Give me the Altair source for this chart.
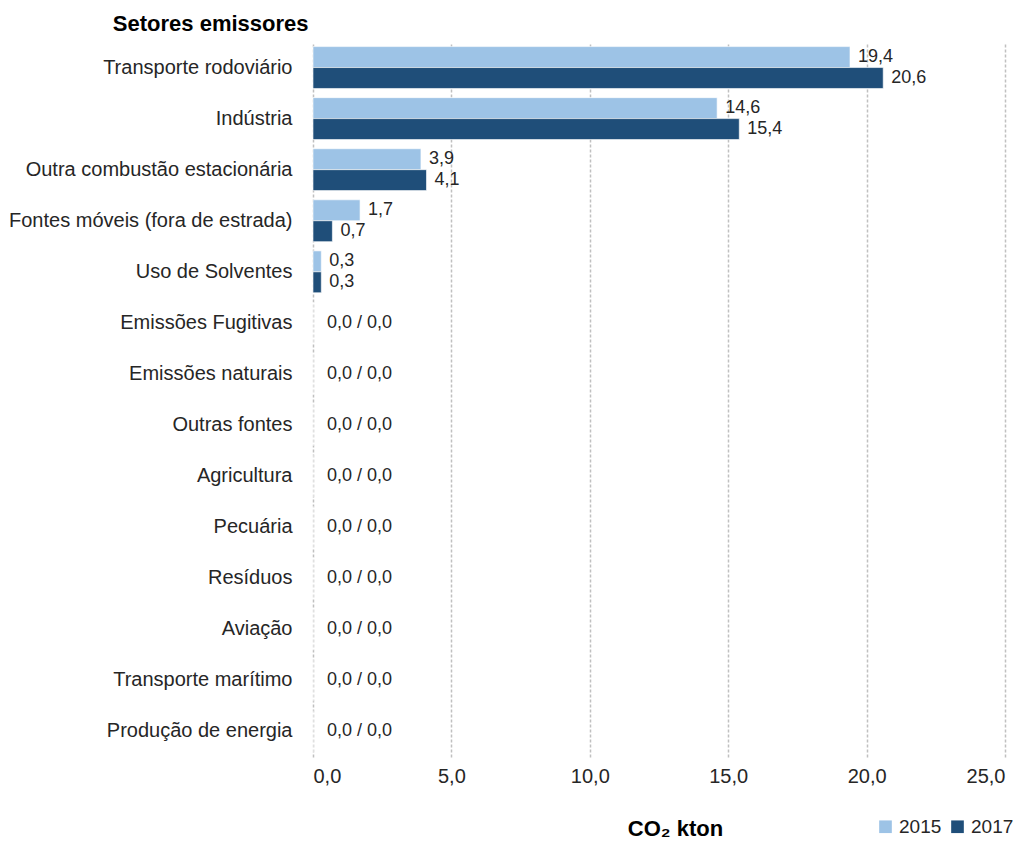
import altair as alt
import pandas as pd

categories = [
    "Transporte rodoviário", "Indústria", "Outra combustão estacionária",
    "Fontes móveis (fora de estrada)", "Uso de Solventes", "Emissões Fugitivas",
    "Emissões naturais", "Outras fontes", "Agricultura", "Pecuária",
    "Resíduos", "Aviação", "Transporte marítimo", "Produção de energia",
]
years = ["2015", "2017"]
v2015 = [19.4, 14.6, 3.9, 1.7, 0.3, 0, 0, 0, 0, 0, 0, 0, 0, 0]
v2017 = [20.6, 15.4, 4.1, 0.7, 0.3, 0, 0, 0, 0, 0, 0, 0, 0, 0]
colors = ["#9dc3e6", "#1f4e79"]

def fmt(v):
    return f"{v:.1f}".replace(".", ",")

rows = []
for c, a, b in zip(categories, v2015, v2017):
    rows.append({"setor": c, "ano": "2015", "valor": a, "label": fmt(a) if (a or b) else ""})
    rows.append({"setor": c, "ano": "2017", "valor": b, "label": fmt(b) if (a or b) else ""})
df = pd.DataFrame(rows)

zero_rows = [{"setor": c, "valor": 0, "label": f"{fmt(a)} / {fmt(b)}"}
             for c, a, b in zip(categories, v2015, v2017) if not (a or b)]
dz = pd.DataFrame(zero_rows)

FONT = "Liberation Sans, Arial, sans-serif"
TXT = "#262626"

yenc = alt.Y("setor:N", sort=categories,
             scale=alt.Scale(paddingInner=0.18, paddingOuter=0.09),
             axis=alt.Axis(title="Setores emissores", titleAngle=0, titleAlign="right",
                           titleBaseline="middle", titleX=-5, titleY=-19,
                           titleFont=FONT, titleFontSize=22, titleFontWeight="bold",
                           titleColor="black",
                           labelFont=FONT, labelFontSize=20, labelColor=TXT, labelLimit=0,
                           labelPadding=21, ticks=False, domain=False, grid=False))
xenc = alt.X("valor:Q", scale=alt.Scale(domain=[0, 25], nice=False),
             axis=alt.Axis(title="CO₂ kton", values=[0, 5, 10, 15, 20, 25],
                           labelExpr="replace(format(datum.value, '.1f'), '.', ',')",
                           labelFont=FONT, labelFontSize=20, labelColor=TXT, labelPadding=9,
                           titleFont=FONT, titleFontSize=22, titleFontWeight="bold",
                           titleColor="black", titleX=362, titleY=71,
                           titleBaseline="middle",
                           ticks=False, domain=False, grid=True,
                           gridColor="#c0c0c0", gridDash=[3, 2], gridWidth=1.5))

bars = alt.Chart(df).mark_bar(stroke="white", strokeWidth=0.6).encode(
    y=yenc,
    yOffset=alt.YOffset("ano:N", sort=years),
    x=xenc,
    color=alt.Color("ano:N", sort=years,
                    scale=alt.Scale(domain=years, range=colors),
                    legend=alt.Legend(title=None, orient="none", direction="horizontal",
                                      legendX=563, legendY=775, symbolType="square",
                                      symbolSize=160, symbolStrokeWidth=0,
                                      labelFont=FONT, labelFontSize=19, labelColor=TXT,
                                      columnPadding=6, labelOffset=4, padding=0)),
)

texts = alt.Chart(df).mark_text(align="left", baseline="middle", dx=8,
                                font=FONT, fontSize=18, color=TXT).encode(
    y=alt.Y("setor:N", sort=categories),
    yOffset=alt.YOffset("ano:N", sort=years),
    x="valor:Q",
    text="label:N",
)

zeros = alt.Chart(dz).mark_text(align="left", baseline="middle", dx=14,
                                font=FONT, fontSize=18, color=TXT).encode(
    y=alt.Y("setor:N", sort=categories),
    x="valor:Q",
    text="label:N",
)

chart = alt.layer(bars, texts, zeros).properties(
    width=692, height=715,
    autosize=alt.AutoSizeParams(type="none"),
    padding={"left": 305, "top": 34, "right": 14, "bottom": 83},
).configure_view(stroke=None)

chart.save("out.html", embed_options={"renderer": "svg", "actions": False})
